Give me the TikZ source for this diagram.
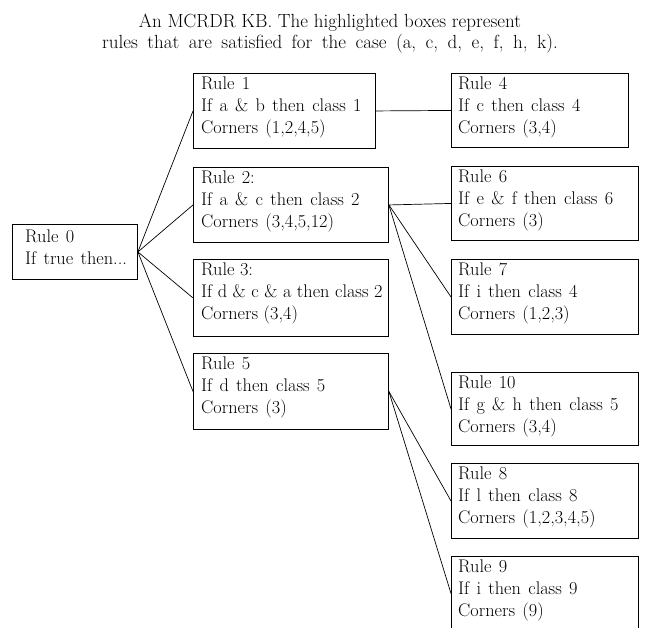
\documentclass[tikz,border=0pt]{standalone}
\usetikzlibrary{calc}
\newcommand{\mywsp}{\spaceskip=7.3pt plus 2pt minus 1pt\relax}
\newcommand{\mywide}{\spaceskip=9.5pt plus 2pt minus 1pt\relax}
\begin{document}
\begin{tikzpicture}[x=1pt,y=-1pt,
  box/.style={draw, line width=0.9pt, rectangle, inner sep=0pt, anchor=north west},
  tight/.style={anchor=north west, inner sep=0pt, align=left, font=\fontsize{18.3}{22}\selectfont},
  txt/.style={tight, execute at begin node=\mywsp},
  ttl/.style={anchor=base, inner sep=0pt, font=\fontsize{19}{23}\selectfont},
  link/.style={line width=0.7pt}]
\useasboundingbox (0,0) rectangle (656,628);

\node[ttl] (t1) at (330,28) {An MCRDR KB. The highlighted boxes represent};
\node[ttl, execute at begin node=\mywide] (t2) at (330,49) {rules that are satisfied for the case (a, c, d, e, f, h, k).};

% boxes
\node[box, minimum width=125pt, minimum height=55pt] (r0) at (12,224) {};
\node[box, minimum width=182pt, minimum height=75pt] (r1) at (193,73) {};
\node[box, minimum width=195pt, minimum height=75pt] (r2) at (193,167) {};
\node[box, minimum width=195pt, minimum height=77pt] (r3) at (193,259) {};
\node[box, minimum width=195pt, minimum height=76pt] (r5) at (193,353) {};
\node[box, minimum width=177pt, minimum height=74pt] (r4) at (451,73) {};
\node[box, minimum width=187pt, minimum height=74pt] (r6) at (451,166) {};
\node[box, minimum width=187pt, minimum height=75pt] (r7) at (451,259) {};
\node[box, minimum width=187pt, minimum height=73pt] (r10) at (451,372) {};
\node[box, minimum width=187pt, minimum height=75pt] (r8) at (451,463) {};
\node[box, minimum width=187pt, minimum height=74pt] (r9) at (451,556) {};

% texts
\node[txt] (r0t) at ($(r0.north west)+(13,6)$) {Rule 0\\If true then...};
\node[txt] (r1t) at ($(r1.north west)+(8,4)$) {Rule 1\\If a \& b then class 1\\Corners (1,2,4,5)};
\node[txt] (r2t) at ($(r2.north west)+(8,4)$) {Rule 2:\\If a \& c then class 2\\Corners (3,4,5,12)};
\node[tight] (r3t) at ($(r3.north west)+(8,4)$) {Rule 3:\\If d \& c \& a then class 2\\Corners (3,4)};
\node[txt] (r5t) at ($(r5.north west)+(8,4)$) {Rule 5\\If d then class 5\\Corners (3)};
\node[txt] (r4t) at ($(r4.north west)+(7,4)$) {Rule 4\\If c then class 4\\Corners (3,4)};
\node[txt] (r6t) at ($(r6.north west)+(7,4)$) {Rule 6\\If e \& f then class 6\\Corners (3)};
\node[txt] (r7t) at ($(r7.north west)+(7,4)$) {Rule 7\\If i then class 4\\Corners (1,2,3)};
\node[txt] (r10t) at ($(r10.north west)+(7,4)$) {Rule 10\\If g \& h then class 5\\Corners (3,4)};
\node[txt] (r8t) at ($(r8.north west)+(7,4)$) {Rule 8\\If l then class 8\\Corners (1,2,3,4,5)};
\node[txt] (r9t) at ($(r9.north west)+(7,4)$) {Rule 9\\If i then class 9\\Corners (9)};

% connectors
\draw[link] (r0.east) -- (r1.west);
\draw[link] (r0.east) -- (r2.west);
\draw[link] (r0.east) -- (r3.west);
\draw[link] (r0.east) -- (r5.west);
\draw[link] (r1.east) -- (r4.west);
\draw[link] (r2.east) -- (r6.west);
\draw[link] (r2.east) -- (r7.west);
\draw[link] (r2.east) -- (r10.west);
\draw[link] (r5.east) -- (r8.west);
\draw[link] (r5.east) -- (r9.west);
\end{tikzpicture}
\end{document}
